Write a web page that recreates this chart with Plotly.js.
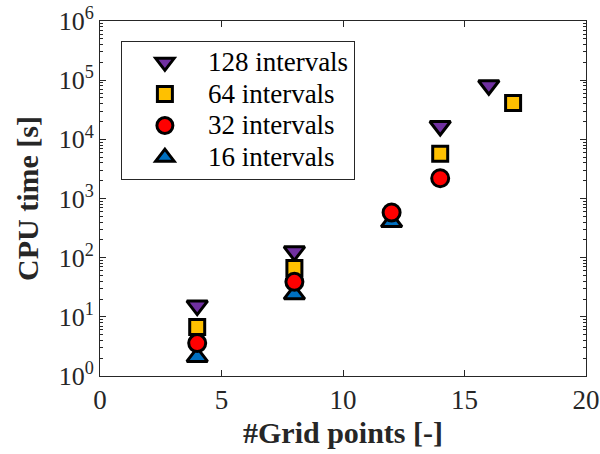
<!DOCTYPE html>
<html>
<head>
<meta charset="utf-8">
<script src="https://cdn.plot.ly/plotly-3.0.1.min.js"></script>
<style>html,body{margin:0;padding:0;background:#fff;}#chart{width:600px;height:454px;}</style>
</head>
<body>
<div id="chart"></div>
<script>
// Data
const x128 = [4, 8, 14, 16];
const y128 = [15.5, 128, 16800, 82000];
const x64 = [4, 8, 14, 17];
const y64 = [6.7, 67, 5700, 41000];
const x32 = [4, 8, 12, 14];
const y32 = [3.6, 39, 580, 2200];
const x16 = [4, 8, 12];
const y16 = [2.1, 24, 400];

const names = ['128 intervals', '64 intervals', '32 intervals', '16 intervals'];
const yTickVals = [1, 10, 100, 1000, 10000, 100000, 1000000];
const yTickText = ['10<sup>0</sup>', '10<sup>1</sup>', '10<sup>2</sup>', '10<sup>3</sup>', '10<sup>4</sup>', '10<sup>5</sup>', '10<sup>6</sup>'];
const xTickVals = [0, 5, 10, 15, 20];

const font = '"Liberation Serif", "Times New Roman", serif';
const dark = '#262626';

function label(s) { return '<span style="font-size:27px">' + s + '</span>'; }

function tr(x, y, name, symbol, color, size, rank) {
  return {
    type: 'scatter', mode: 'markers', x: x, y: y, name: label(name),
    legendrank: rank,
    marker: {symbol: symbol, color: color, size: size, line: {color: '#000', width: 3}},
    cliponaxis: false
  };
}

const data = [
  tr(x16, y16, names[3], 'triangle-up', '#0070C0', 18, 4),
  tr(x128, y128, names[0], 'triangle-down', '#7030A0', 18, 1),
  tr(x64, y64, names[1], 'square', '#FFC000', 15, 2),
  tr(x32, y32, names[2], 'circle', '#FF0000', 17, 3)
];

const layout = {
  width: 600, height: 454,
  margin: {l: 100, r: 14, t: 21, b: 78},
  paper_bgcolor: '#fff', plot_bgcolor: '#fff',
  font: {family: font, color: dark, size: 25},
  showlegend: true,
  legend: {
    x: 0.043, y: 0.945, xanchor: 'left', yanchor: 'top',
    bordercolor: dark, borderwidth: 1, bgcolor: '#fff',
    font: {family: font, size: 22, color: '#000'},
    itemwidth: 76, tracegroupgap: 0
  },
  xaxis: {
    range: [0, 20], tickmode: 'array', tickvals: xTickVals,
    ticks: 'inside', ticklen: 6, tickcolor: dark, tickwidth: 1,
    showline: true, linecolor: dark, linewidth: 1, mirror: 'ticks',
    showgrid: false, zeroline: false,
    tickfont: {family: font, size: 27, color: dark},
    title: {text: '<b>#Grid points [-]</b>', font: {family: font, size: 30, color: dark}, standoff: 7}
  },
  yaxis: {
    type: 'log', range: [0, 6], tickmode: 'array', tickvals: yTickVals, ticktext: yTickText,
    ticks: 'inside', ticklen: 6, tickcolor: dark, tickwidth: 1,
    minor: {ticks: 'inside', ticklen: 3, tickcolor: dark, dtick: 'D1', showgrid: false},
    showline: true, linecolor: dark, linewidth: 1, mirror: 'ticks',
    showgrid: false, zeroline: false,
    tickfont: {family: font, size: 26, color: dark},
    title: {text: '<b>CPU time [s]</b>', font: {family: font, size: 30, color: dark}, standoff: 11}
  }
};

Plotly.newPlot('chart', data, layout, {displayModeBar: false, staticPlot: true});
</script>
</body>
</html>
